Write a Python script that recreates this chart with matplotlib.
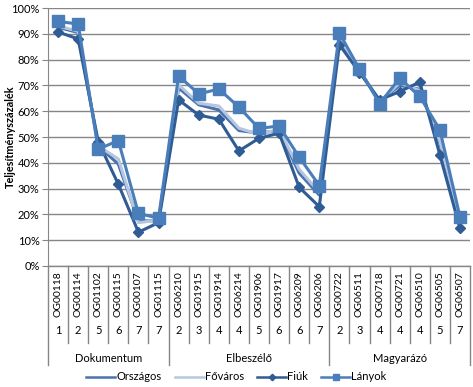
import matplotlib
matplotlib.use("Agg")
import matplotlib.pyplot as plt
import matplotlib.transforms as mtransforms

plt.rcParams['font.family'] = ['Lato', 'DejaVu Sans']

codes = ["OG00118", "OG00114", "OG01102", "OG00115", "OG00107", "OG01115",
         "OG06210", "OG01915", "OG01914", "OG06214", "OG01906", "OG01917", "OG06209", "OG06206",
         "OG00722", "OG06511", "OG00718", "OG00721", "OG06510", "OG06505", "OG06507"]
levels = [1, 2, 5, 6, 7, 7,
          2, 3, 4, 4, 5, 6, 6, 7,
          2, 3, 4, 4, 4, 5, 7]
groups = ["Dokumentum", "Elbeszélő", "Magyarázó"]
group_sizes = [6, 8, 7]

orszagos = [92.5, 90.5, 46.5, 39.5, 17.5, 17.5, 69.0, 62.5, 60.5, 52.5, 51.5, 52.5, 36.0, 27.5,
            88.0, 75.8, 63.8, 70.0, 68.5, 47.5, 17.0]
fovaros = [93.0, 91.0, 46.5, 41.5, 16.8, 17.8, 70.2, 63.1, 62.0, 53.4, 51.0, 53.0, 37.5, 28.5,
           88.5, 76.0, 63.5, 71.0, 68.0, 48.5, 17.5]
fiuk = [90.7, 88.0, 48.2, 31.7, 13.1, 16.8, 64.4, 58.5, 56.9, 44.6, 49.5, 51.5, 30.5, 23.0,
        85.8, 75.0, 64.4, 67.6, 71.3, 43.1, 14.6]
lanyok = [94.8, 93.8, 45.3, 48.6, 20.4, 18.5, 73.7, 66.7, 68.6, 61.6, 53.3, 54.3, 42.2, 31.2,
          90.3, 76.3, 62.9, 72.8, 65.7, 52.8, 19.1]
series_names = ["Országos", "Főváros", "Fiúk", "Lányok"]
ylabel = "Teljesítményszázalék"

W, H = 473, 387
fig = plt.figure(figsize=(W / 100, H / 100), dpi=100)
left, right, top, bottom = 48, 470, 8, 266
ax = fig.add_axes([left / W, 1 - bottom / H, (right - left) / W, (bottom - top) / H])

x = list(range(len(codes)))
ax.plot(x, orszagos, color="#4A72AE", lw=2.2, label=series_names[0], zorder=3)
ax.plot(x, fovaros, color="#B4C6E0", lw=2.2, label=series_names[1], zorder=3)
ax.plot(x, fiuk, color="#2F5C95", lw=2.2, marker="D", ms=5.5, label=series_names[2], zorder=4)
ax.plot(x, lanyok, color="#4A7EBB", lw=2.2, marker="s", ms=8, label=series_names[3], zorder=5)

ax.set_xlim(-0.5, len(codes) - 0.5)
ax.set_ylim(0, 100)
ax.set_yticks(range(0, 101, 10))
ax.set_yticklabels([f"{v}%" for v in range(0, 101, 10)], fontsize=8)
ax.yaxis.grid(True, color="#868686", lw=1)
ax.set_axisbelow(True)
ax.set_xticks([])
for s in ["top", "right", "bottom"]:
    ax.spines[s].set_visible(False)
ax.spines["left"].set_color("#868686")
ax.tick_params(axis="y", length=4, color="#868686", pad=2)
fig.text(10 / W, 1 - 137 / H, ylabel, rotation=90, ha="center", va="center",
         fontsize=7.8, fontweight="bold")

# category axis
ph = bottom - top
trans = mtransforms.blended_transform_factory(ax.transData, ax.transAxes)
def yf(px):
    return -px / ph

ax.plot([-0.5, len(codes) - 0.5], [0, 0], transform=trans, color="#868686", lw=1, clip_on=False)
boundaries = [-0.5]
acc = 0
for g in group_sizes:
    acc += g
    boundaries.append(acc - 0.5)
for i in range(len(codes) + 1):
    xb = i - 0.5
    depth = 99 if xb in boundaries else 77
    ax.plot([xb, xb], [0, yf(depth)], transform=trans, color="#868686", lw=1, clip_on=False)
for i, (c, n) in enumerate(zip(codes, levels)):
    ax.text(i, yf(28), c, rotation=90, ha="center", va="center", fontsize=7.5, transform=trans)
    ax.text(i, yf(64), str(n), ha="center", va="center", fontsize=8, transform=trans)
start = 0
for g, sz in zip(groups, group_sizes):
    ax.text(start + (sz - 1) / 2, yf(92), g, ha="center", va="center", fontsize=8, transform=trans)
    start += sz

leg = fig.legend(loc="center", bbox_to_anchor=(0.5, 1 - 377 / H), ncol=4, frameon=False,
                 fontsize=8, handlelength=2.6, columnspacing=1.2, handletextpad=0.1,
                 markerscale=0.6)
for ln in leg.get_lines():
    ln.set_linewidth(1.8)

fig.savefig("out.png", dpi=100)
